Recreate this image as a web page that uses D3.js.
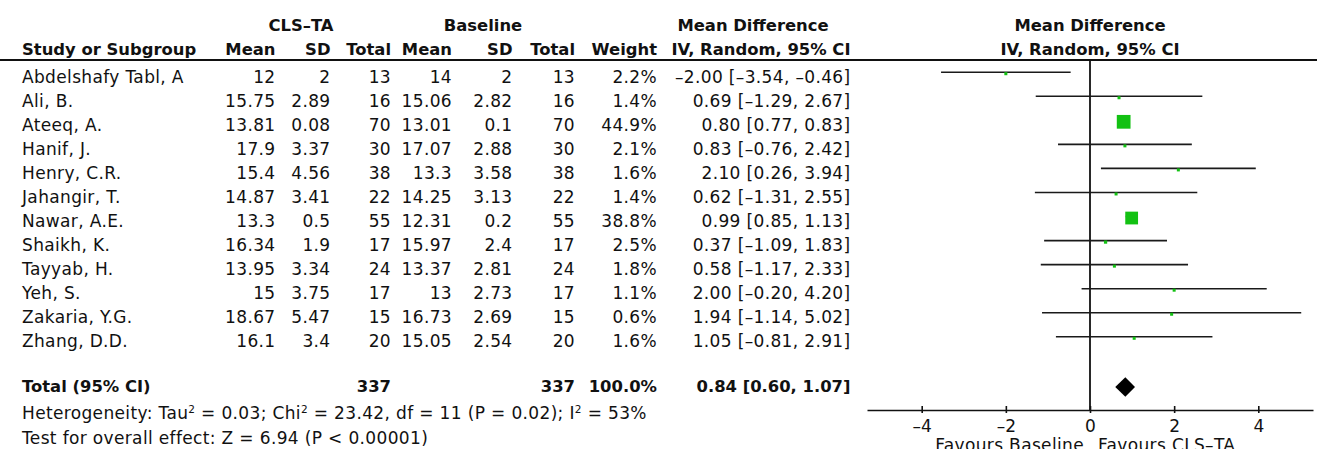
<!DOCTYPE html>
<html>
<head>
<meta charset="utf-8">
<script src="https://cdn.jsdelivr.net/npm/d3@7"></script>
<style>
  html, body { margin: 0; padding: 0; background: #fff; }
  svg { display: block; }
  text { font-family: "DejaVu Sans", sans-serif; fill: #111; }
</style>
</head>
<body>
<svg id="chart" width="1317" height="449"></svg>
<script>
// ---------- data ----------
const studies = ["Abdelshafy Tabl, A","Ali, B.","Ateeq, A.","Hanif, J.","Henry, C.R.","Jahangir, T.","Nawar, A.E.","Shaikh, K.","Tayyab, H.","Yeh, S.","Zakaria, Y.G.","Zhang, D.D."];
const clsMean = [12, 15.75, 13.81, 17.9, 15.4, 14.87, 13.3, 16.34, 13.95, 15, 18.67, 16.1];
const clsSD = [2, 2.89, 0.08, 3.37, 4.56, 3.41, 0.5, 1.9, 3.34, 3.75, 5.47, 3.4];
const clsTotal = [13, 16, 70, 30, 38, 22, 55, 17, 24, 17, 15, 20];
const baseMean = [14, 15.06, 13.01, 17.07, 13.3, 14.25, 12.31, 15.97, 13.37, 13, 16.73, 15.05];
const baseSD = [2, 2.82, 0.1, 2.88, 3.58, 3.13, 0.2, 2.4, 2.81, 2.73, 2.69, 2.54];
const baseTotal = [13, 16, 70, 30, 38, 22, 55, 17, 24, 17, 15, 20];
const weight = [2.2, 1.4, 44.9, 2.1, 1.6, 1.4, 38.8, 2.5, 1.8, 1.1, 0.6, 1.6];
const meanDiff = [-2.00, 0.69, 0.80, 0.83, 2.10, 0.62, 0.99, 0.37, 0.58, 2.00, 1.94, 1.05];
const ciLow = [-3.54, -1.29, 0.77, -0.76, 0.26, -1.31, 0.85, -1.09, -1.17, -0.20, -1.14, -0.81];
const ciHigh = [-0.46, 2.67, 0.83, 2.42, 3.94, 2.55, 1.13, 1.83, 2.33, 4.20, 5.02, 2.91];
const totalCls = 337;
const totalBase = 337;
const totalWeight = 100.0;
const pooled = [0.84, 0.60, 1.07]; // estimate, low, high
const axisTicks = [-4, -2, 0, 2, 4];
const heterogeneity = { tau2: "0.03", chi2: "23.42", df: "11", p: "0.02", i2: "53%" };
const overall = { z: "6.94", p: "< 0.00001" };

// ---------- helpers ----------
const dash = s => s.replace(/[-\u2212]/g, "\u2013");
const f2 = d3.format(".2f");
const fmtCI = (m, l, h) => dash(`${f2(m)} [${f2(l)}, ${f2(h)}]`);

const svg = d3.select("#chart");
const FSB = 16.4;   // bold size
const FS = 17;      // regular size
const LS = 0.35;    // letter spacing for regular text

const rows = studies.map((s, i) => ({
  study: s, cm: clsMean[i], cs: clsSD[i], cn: clsTotal[i],
  bm: baseMean[i], bs: baseSD[i], bn: baseTotal[i],
  w: weight[i], md: meanDiff[i], lo: ciLow[i], hi: ciHigh[i]
}));

// row baselines
const y = d3.scalePoint().domain(studies).range([82.7, 347.3]);
// forest x
const x = d3.scaleLinear().domain([-5.3, 5.3]).range([867, 1313]);

// column layout (right-aligned anchors)
const cols = [
  { head: "Mean", xe: 275.5, val: d => String(d.cm) },
  { head: "SD", xe: 330.5, val: d => String(d.cs) },
  { head: "Total", xe: 391, val: d => String(d.cn) },
  { head: "Mean", xe: 452, val: d => String(d.bm) },
  { head: "SD", xe: 512.5, val: d => String(d.bs) },
  { head: "Total", xe: 575, val: d => String(d.bn) },
  { head: "Weight", xe: 657, val: d => d.w.toFixed(1) + "%" },
  { head: "IV, Random, 95% CI", xe: 850.5, val: d => fmtCI(d.md, d.lo, d.hi) }
];

// ---------- headers ----------
const hdr = svg.append("g").attr("font-weight", "bold").attr("font-size", FSB);
hdr.append("text").attr("x", 301).attr("y", 31).attr("text-anchor", "middle").text("CLS\u2013TA");
hdr.append("text").attr("x", 483).attr("y", 31).attr("text-anchor", "middle").text("Baseline");
hdr.append("text").attr("x", 753).attr("y", 31).attr("text-anchor", "middle").text("Mean Difference");
hdr.append("text").attr("x", 22).attr("y", 54.5).text("Study or Subgroup");
cols.forEach(c => {
  hdr.append("text").attr("x", c.xe).attr("y", 54.5).attr("text-anchor", "end").text(c.head);
});
hdr.append("text").attr("x", x(0)).attr("y", 31).attr("text-anchor", "middle").text("Mean Difference");
hdr.append("text").attr("x", x(0)).attr("y", 54.5).attr("text-anchor", "middle").text("IV, Random, 95% CI");

// header rule
svg.append("line").attr("x1", 0).attr("x2", 1317).attr("y1", 60).attr("y2", 60)
  .attr("stroke", "#111").attr("stroke-width", 2);

// ---------- table body ----------
const body = svg.append("g").attr("font-size", FS).attr("letter-spacing", LS);
const rowG = body.selectAll("g.row").data(rows).join("g").attr("class", "row")
  .attr("transform", d => `translate(0,${y(d.study)})`);
rowG.append("text").attr("x", 22).attr("y", 0).text(d => d.study);
cols.forEach(c => {
  rowG.append("text").attr("x", c.xe).attr("y", 0).attr("text-anchor", "end").text(c.val);
});

// total row
const totY = 391.7;
const tot = svg.append("g").attr("font-size", FSB).attr("font-weight", "bold");
tot.append("text").attr("x", 22).attr("y", totY).text("Total (95% CI)");
tot.append("text").attr("x", cols[2].xe).attr("y", totY).attr("text-anchor", "end").text(totalCls);
tot.append("text").attr("x", cols[5].xe).attr("y", totY).attr("text-anchor", "end").text(totalBase);
tot.append("text").attr("x", cols[6].xe).attr("y", totY).attr("text-anchor", "end").text(totalWeight.toFixed(1) + "%");
tot.append("text").attr("x", cols[7].xe).attr("y", totY).attr("text-anchor", "end").text(fmtCI(pooled[0], pooled[1], pooled[2]));

// heterogeneity with superscripts
const hetParts = [
  ["Heterogeneity: Tau", false], ["2", true],
  [` = ${heterogeneity.tau2}; Chi`, false], ["2", true],
  [` = ${heterogeneity.chi2}, df = ${heterogeneity.df} (P = ${heterogeneity.p}); I`, false], ["2", true],
  [` = ${heterogeneity.i2}`, false]
];
const het = svg.append("text").attr("x", 22).attr("y", 419).attr("font-size", FS).attr("letter-spacing", LS);
hetParts.forEach(([t, isSup], i) => {
  const prevSup = i > 0 && hetParts[i - 1][1];
  het.append("tspan")
    .attr("font-size", isSup ? FS * 0.62 : null)
    .attr("dy", isSup ? -6.5 : (prevSup ? 6.5 : 0))
    .text(t);
});

svg.append("text").attr("x", 22).attr("y", 444.3).attr("font-size", FS).attr("letter-spacing", LS)
  .text(`Test for overall effect: Z = ${overall.z} (P ${overall.p})`);

// ---------- forest plot ----------
const plot = svg.append("g");
// zero line
plot.append("line").attr("x1", x(0)).attr("x2", x(0)).attr("y1", 60).attr("y2", 410)
  .attr("stroke", "#111").attr("stroke-width", 1.8);

// CI lines
plot.selectAll("line.ci").data(rows).join("line").attr("class", "ci")
  .attr("x1", d => x(d.lo)).attr("x2", d => x(Math.min(d.hi, 5.3)))
  .attr("y1", d => y(d.study) - 10.5).attr("y2", d => y(d.study) - 10.5)
  .attr("stroke", "#1a1a1a").attr("stroke-width", 1.6);

// squares
const side = w => Math.max(3, 2.05 * Math.sqrt(w));
plot.selectAll("rect.sq").data(rows).join("rect").attr("class", "sq")
  .attr("x", d => x(d.md) - side(d.w) / 2)
  .attr("y", d => y(d.study) - 9 - side(d.w) / 2)
  .attr("width", d => side(d.w)).attr("height", d => side(d.w))
  .attr("fill", "#13c113");

// pooled diamond
const dy0 = 387, dh = 9.7;
plot.append("path")
  .attr("d", `M${x(pooled[1])},${dy0} L${x(pooled[0])},${dy0 - dh} L${x(pooled[2])},${dy0} L${x(pooled[0])},${dy0 + dh} Z`)
  .attr("fill", "#000");

// axis
const axisY = 410;
const ax = plot.append("g").attr("transform", `translate(0,${axisY})`)
  .call(d3.axisBottom(x).tickValues(axisTicks).tickSizeOuter(0).tickSizeInner(3)
    .tickFormat(d => dash(d3.format("d")(d))));
ax.attr("font-family", null).attr("font-size", null);
ax.select(".domain").attr("stroke", "#111").attr("stroke-width", 1.6);
ax.selectAll(".tick line").attr("y1", -4).attr("y2", 3).attr("stroke", "#111").attr("stroke-width", 1.6);
ax.selectAll(".tick text").attr("y", 21.5).attr("dy", 0).attr("font-size", FS)
  .style("font-family", '"DejaVu Sans", sans-serif').attr("fill", "#111");

// favours labels
svg.append("text").attr("x", 1084).attr("y", 451).attr("text-anchor", "end").attr("font-size", FS).attr("letter-spacing", LS).text("Favours Baseline");
svg.append("text").attr("x", 1098).attr("y", 451).attr("font-size", FS).attr("letter-spacing", LS).text("Favours CLS\u2013TA");
</script>
</body>
</html>
